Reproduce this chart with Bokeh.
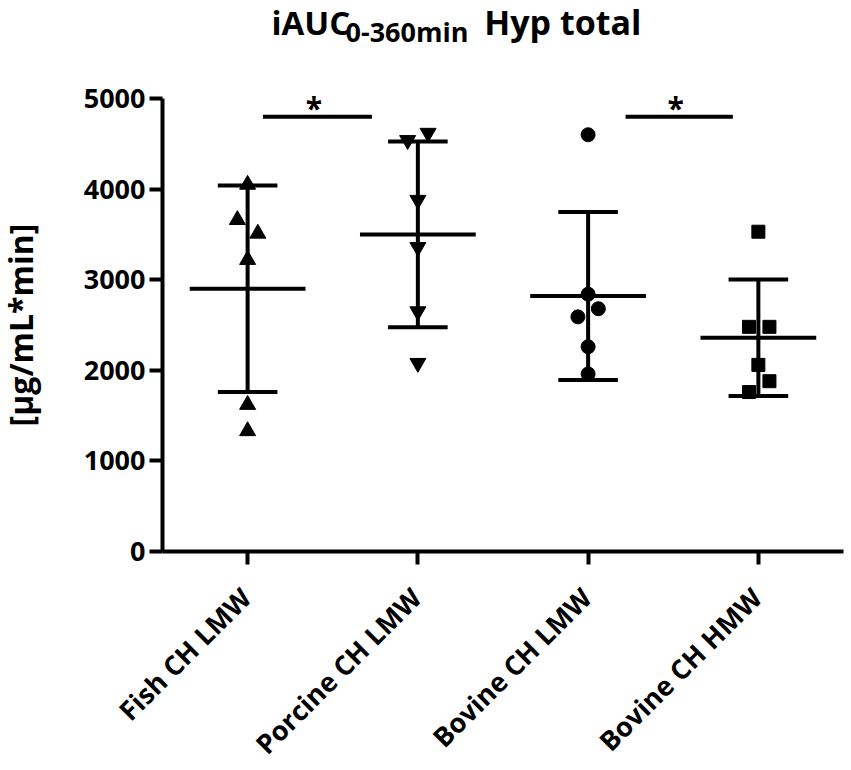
import math
from bokeh.plotting import figure
from bokeh.models import FixedTicker, ColumnDataSource
from bokeh.core.properties import value
from bokeh.embed import file_html
from bokeh.resources import INLINE

# ---- data ----
categories = ["Fish CH LMW", "Porcine CH LMW", "Bovine CH LMW", "Bovine CH HMW"]
fish_lmw = [4050, 3660, 3510, 3220, 1620, 1330]
porcine_lmw = [4540, 4620, 3880, 3360, 2650, 2080]
bovine_lmw = [4600, 2840, 2680, 2590, 2260, 1960]
bovine_hmw = [3530, 2480, 2480, 2060, 1880, 1760]
# horizontal spread of overlapping points (category units)
fish_jit = [0, -0.06, 0.06, 0, 0, 0]
porcine_jit = [-0.06, 0.06, 0, 0, 0, 0]
bovine_lmw_jit = [0, 0, 0.06, -0.06, 0, 0]
bovine_hmw_jit = [0, -0.055, 0.065, 0, 0.065, -0.055]
means = [2900, 3500, 2820, 2360]
sds = [1140, 1025, 927, 643]
y_ticks = [0, 1000, 2000, 3000, 4000, 5000]
sig_x0 = [1.09, 3.22]
sig_x1 = [1.73, 3.85]
sig_y = [4800, 4800]
sig_text = ["*", "*"]
y_label = "[µg/mL*min]"
title_main = "iAUC"
title_sub = "0-360min"
title_rest = "Hyp total"

FONT = "Open Sans"
# the frame fills the whole figure; axes are pinned at x=0.5 and y=0
X_RANGE = (-0.4515, 4.5294)
Y_RANGE = (-2362, 6082)

p = figure(width=848, height=765, x_range=X_RANGE, y_range=Y_RANGE,
           output_backend="svg", toolbar_location=None,
           min_border_left=0, min_border_right=0, min_border_top=0,
           min_border_bottom=0)
p.outline_line_color = None
p.xgrid.visible = False
p.ygrid.visible = False
p.background_fill_color = "white"

# y axis at x = 0.5
ya = p.yaxis[0]
ya.fixed_location = 0.5
ya.ticker = FixedTicker(ticks=y_ticks)
ya.bounds = (0, 5000)
ya.axis_line_width = 4
ya.major_tick_line_width = 4
ya.major_tick_out = 13
ya.major_tick_in = 0
ya.minor_tick_line_color = None
ya.major_label_text_font = FONT
ya.major_label_text_font_style = "bold"
ya.major_label_text_font_size = "27px"
ya.major_label_text_color = "black"
ya.major_label_standoff = 4

p.text(x=[-0.335], y=[2500], text=[y_label], angle=math.pi / 2,
       text_align="center", text_baseline="middle", text_font=value(FONT),
       text_font_style="bold", text_font_size="32px", text_color="black")

# x axis at y = 0 (category names are drawn rotated below it)
idx = [i + 1 for i in range(len(categories))]
xa = p.xaxis[0]
xa.fixed_location = 0
xa.ticker = FixedTicker(ticks=idx)
xa.bounds = (0.5, 4.5)
xa.axis_line_width = 4
xa.major_tick_line_width = 4
xa.major_tick_out = 13
xa.major_tick_in = 0
xa.minor_tick_line_color = None
xa.major_label_overrides = {i: "" for i in idx}
xa.major_label_standoff = 0

cat_src = ColumnDataSource(dict(x=idx, y=[-310] * len(idx), t=categories))
p.text(x="x", y="y", text="t", source=cat_src, angle=math.pi / 4, x_offset=-15,
       text_align="right", text_baseline="top", text_font=value(FONT),
       text_font_style="bold", text_font_size="27px", text_color="black")

# mean and SD
MW = 0.34
CW = 0.175
stat = ColumnDataSource(dict(
    x=idx,
    m=means,
    lo=[m - s for m, s in zip(means, sds)],
    hi=[m + s for m, s in zip(means, sds)],
    mx0=[i - MW for i in idx], mx1=[i + MW for i in idx],
    cx0=[i - CW for i in idx], cx1=[i + CW for i in idx],
))
p.segment(x0="x", x1="x", y0="lo", y1="hi", source=stat, line_color="black", line_width=4)
p.segment(x0="mx0", x1="mx1", y0="m", y1="m", source=stat, line_color="black", line_width=4)
p.segment(x0="cx0", x1="cx1", y0="hi", y1="hi", source=stat, line_color="black", line_width=4)
p.segment(x0="cx0", x1="cx1", y0="lo", y1="lo", source=stat, line_color="black", line_width=4)

groups = [
    (fish_lmw, fish_jit, "triangle", 16),
    (porcine_lmw, porcine_jit, "inverted_triangle", 16),
    (bovine_lmw, bovine_lmw_jit, "circle", 14),
    (bovine_hmw, bovine_hmw_jit, "square", 13),
]
for gi, (vals, jit, marker, size) in enumerate(groups):
    xs = [gi + 1 + j for j in jit]
    p.scatter(xs, vals, marker=marker, size=size, fill_color="black", line_color="black")

# significance
p.segment(x0=sig_x0, x1=sig_x1, y0=sig_y, y1=sig_y, line_color="black", line_width=4)
p.text(x=[(a + b) / 2 - 0.02 for a, b in zip(sig_x0, sig_x1)], y=[y - 130 for y in sig_y],
       text=sig_text, text_font=value(FONT), text_font_style="bold",
       text_font_size="30px", text_align="center", text_baseline="bottom", text_color="black")

# title
p.text(x=[1.14], y=[5840], text=[title_main], text_font=value(FONT), text_font_style="bold",
       text_font_size="33px", text_align="left", text_baseline="alphabetic", text_color="black")
p.text(x=[1.575], y=[5741], text=[title_sub], text_font=value(FONT), text_font_style="bold",
       text_font_size="27px", text_align="left", text_baseline="alphabetic", text_color="black")
p.text(x=[2.39], y=[5840], text=[title_rest], text_font=value(FONT), text_font_style="bold",
       text_font_size="34px", text_align="left", text_baseline="alphabetic", text_color="black")

open("out.html", "w").write(file_html(p, INLINE))
